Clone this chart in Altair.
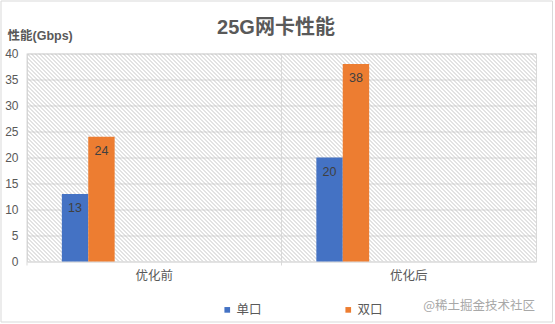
import altair as alt
import pandas as pd

# ---- data ----
groups = ["优化前", "优化后"]
series = ["单口", "双口"]
single_port = [13, 20]
dual_port = [24, 38]
colors = ["#4472C4", "#ED7D31"]
y_ticks = [0, 5, 10, 15, 20, 25, 30, 35, 40]

# empty slots so the two bars sit at the left of each category, like the spreadsheet layout
offset_slots = ["_0"] + series + ["_3", "_4", "_5", "_6", "_7", "_8"]

rows = []
for g, a, b in zip(groups, single_port, dual_port):
    rows.append({"group": g, "series": series[0], "value": a})
    rows.append({"group": g, "series": series[1], "value": b})
df = pd.DataFrame(rows)

# ---- layout ----
W, H = 509, 208
PAD_L, PAD_T = 27, 53.5
LATIN = "Liberation Sans, Noto Sans CJK SC"
CJK = "Noto Sans CJK SC"
GRID = "#d9d9d9"
TEXT = "#595959"

# diagonal hatch texture behind the plot area
hatch = (
    alt.Chart(alt.sequence(-H, W + 4, 4, as_="k"))
    .transform_calculate(k2=f"datum.k + {H}", top=f"{H}", bot="0")
    .mark_rule(clip=True, stroke="#bfbfbf", strokeWidth=0.9)
    .encode(
        x=alt.X("k:Q", scale=alt.Scale(domain=[0, W], nice=False, zero=False), axis=None),
        x2="k2:Q",
        y=alt.Y("top:Q", scale=alt.Scale(domain=[0, H], nice=False), axis=None),
        y2="bot:Q",
    )
)

base = alt.Chart(df)

x_enc = alt.X(
    "group:N",
    sort=groups,
    scale=alt.Scale(paddingInner=0, paddingOuter=0),
    axis=None,
)
xoff_enc = alt.XOffset(
    "series:N",
    scale=alt.Scale(domain=offset_slots, paddingInner=0, paddingOuter=0.32),
)
y_axis = alt.Axis(
    values=y_ticks, grid=True, gridColor=GRID, domain=False, ticks=False,
    labelPadding=9, labelFont=LATIN, labelFontSize=12, labelColor=TEXT,
    labelOverlap=False,
    title="性能(Gbps)", titleAngle=0, titleX=-20, titleY=-14.5,
    titleAlign="left", titleBaseline="alphabetic", titleFont=LATIN,
    titleFontSize=12.5, titleFontWeight="bold", titleColor=TEXT,
)
y_enc = alt.Y("value:Q", scale=alt.Scale(domain=[0, 40], nice=False), axis=y_axis)

# category separators with a short tick below the baseline
separators = (
    alt.Chart(pd.DataFrame({"group": groups}))
    .mark_rule(stroke=GRID, strokeWidth=1)
    .encode(
        x=alt.X("group:N", sort=groups, bandPosition=0, axis=None),
        y=alt.value(0),
        y2=alt.value(H + 4),
    )
)

# category names under each band
cat_labels = (
    alt.Chart(pd.DataFrame({"group": groups}))
    .mark_text(font=CJK, fontSize=12.5, color=TEXT, baseline="middle")
    .encode(x=x_enc, y=alt.value(H + 14), text="group:N")
)

bars = base.mark_bar().encode(
    x=x_enc,
    xOffset=xoff_enc,
    y=y_enc,
    color=alt.Color(
        "series:N",
        scale=alt.Scale(domain=series, range=colors),
        legend=alt.Legend(
            orient="none", legendX=194, legendY=250, direction="horizontal",
            title=None, symbolType="square", symbolSize=32, symbolStrokeWidth=0,
            labelFont=CJK, labelFontSize=12.5, labelColor=TEXT,
            labelOffset=3, columnPadding=80,
        ),
    ),
)

labels = base.mark_text(
    baseline="middle", dy=14, font=LATIN, fontSize=12.5, color="#404040"
).encode(
    x=x_enc,
    xOffset=xoff_enc,
    y=y_enc,
    text="value:Q",
)

one = pd.DataFrame({"t": [0]})

title = alt.Chart(one).mark_text(
    text="25G网卡性能", font=LATIN, fontSize=20, fontWeight="bold",
    color=TEXT, align="center", baseline="alphabetic",
).encode(x=alt.value(W / 2 - 5.5), y=alt.value(-20))

watermark = alt.Chart(one).mark_text(
    text="@稀土掘金技术社区", font=CJK, fontSize=12.5, color="#a8a8a8",
    align="right", baseline="middle",
).encode(x=alt.value(W - 1), y=alt.value(252.5))

frame = alt.Chart(one).mark_rect(
    fillOpacity=0, stroke=GRID, strokeWidth=1
).encode(
    x=alt.value(-PAD_L + 1), x2=alt.value(W + 16.5),
    y=alt.value(-PAD_T + 1), y2=alt.value(268.5),
)

main = alt.layer(separators, bars, labels, cat_labels, title, watermark, frame)

chart = (
    alt.layer(hatch, main)
    .resolve_scale(x="independent", y="independent")
    .properties(
        width=W,
        height=H,
        autosize=alt.AutoSizeParams(type="none"),
        padding={"left": PAD_L, "top": PAD_T, "right": 555 - PAD_L - W, "bottom": 324 - PAD_T - H},
        background="white",
    )
    .configure_view(stroke=GRID, strokeWidth=1)
)

chart.save("out.html", embed_options={"renderer": "svg", "actions": False})
